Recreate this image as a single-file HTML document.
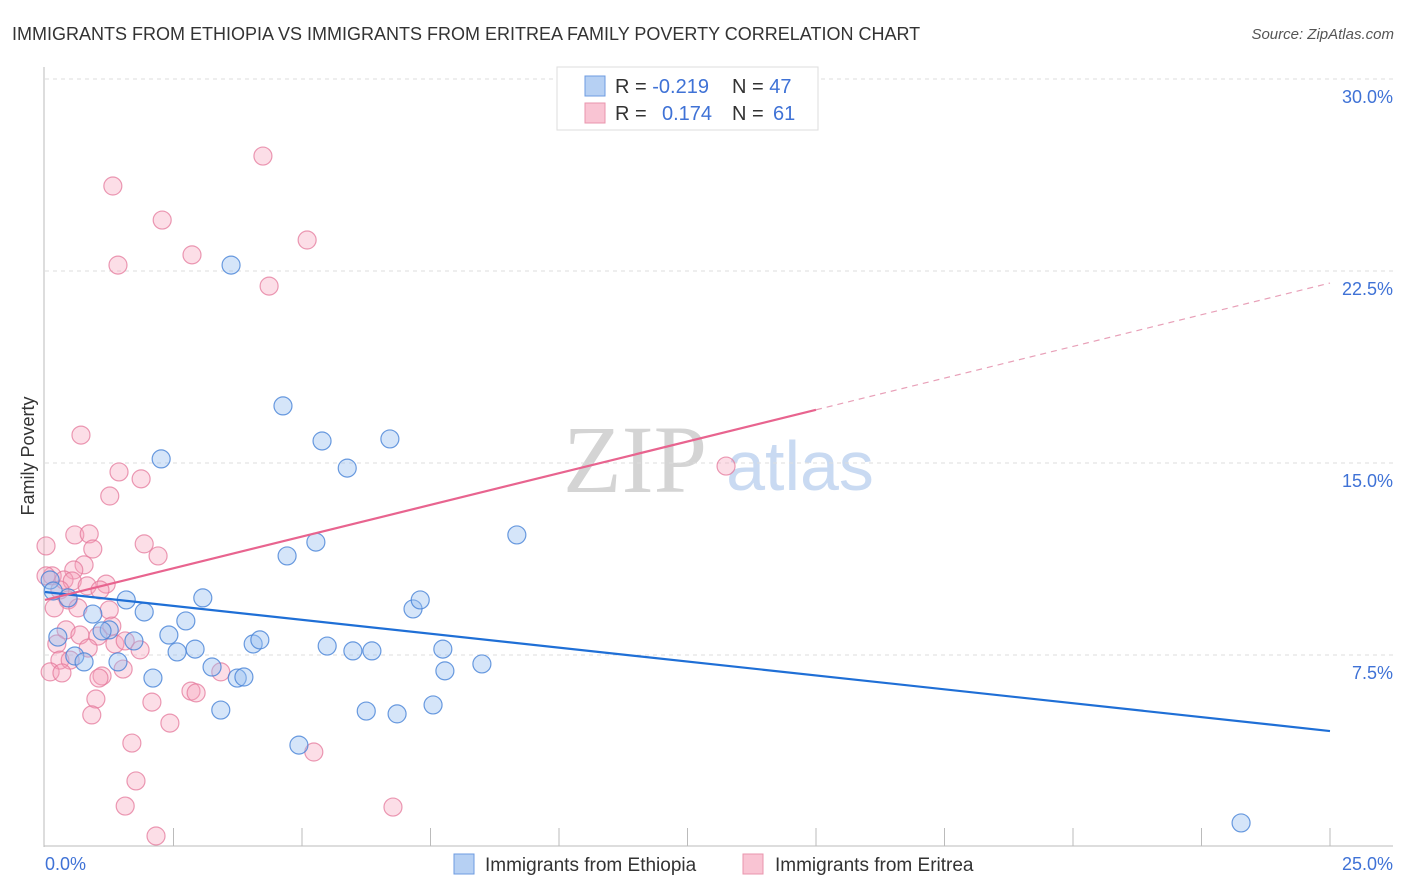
<!DOCTYPE html>
<html><head><meta charset="utf-8"><style>
body{margin:0;background:#fff;font-family:"Liberation Sans",sans-serif;}
svg{display:block}
</style></head><body>
<svg id="chart" width="1406" height="892">
<text x="12" y="40" font-size="18" fill="#333">IMMIGRANTS FROM ETHIOPIA VS IMMIGRANTS FROM ERITREA FAMILY POVERTY CORRELATION CHART</text>
<text x="1394" y="39" font-size="15" fill="#555" font-style="italic" text-anchor="end">Source: ZipAtlas.com</text>
<text x="635" y="492" font-size="96" fill="#d4d4d4" font-family="Liberation Serif,serif" text-anchor="middle">ZIP</text>
<text x="800" y="490" font-size="70" fill="#c9daf2" text-anchor="middle">atlas</text>
<g id="grid"></g>
<g id="axes"></g>
<g id="pts"></g>
<g id="lines"></g>
<text x="34" y="456" font-size="18" fill="#333" text-anchor="middle" transform="rotate(-90 34 456)">Family Poverty</text>
<g>
<rect x="557" y="67" width="261" height="63" fill="#fff" stroke="#ddd"/>
<rect x="585" y="76" width="20" height="20" fill="#b6d0f3" stroke="#6d9be0"/>
<rect x="585" y="103" width="20" height="20" fill="#f9c4d3" stroke="#e995ad"/>
<text x="615" y="93" font-size="20" fill="#333">R = <tspan fill="#3f72d6">-0.219</tspan><tspan x="732">N = </tspan><tspan fill="#3f72d6">47</tspan></text>
<text x="615" y="120" font-size="20" fill="#333">R = <tspan x="662" fill="#3f72d6">0.174</tspan><tspan x="732">N = </tspan><tspan x="773" fill="#3f72d6">61</tspan></text>
</g>
<g>
<rect x="454" y="854" width="20" height="20" fill="#b6d0f3" stroke="#6d9be0"/>
<text x="485" y="871" font-size="19" fill="#333">Immigrants from Ethiopia</text>
<rect x="743" y="854" width="20" height="20" fill="#f9c4d3" stroke="#e995ad"/>
<text x="775" y="871" font-size="19" fill="#333">Immigrants from Eritrea</text>
</g>
</svg>
<script>
const ethX=[3.62,4.63,5.39,6.71,5.88,2.26,9.18,4.71,5.27,3.07,1.58,1.93,0.93,2.74,7.16,7.30,1.25,1.11,0.25,2.41,1.73,2.92,2.57,4.05,4.18,5.49,6.36,7.74,5.99,8.50,7.78,3.25,1.42,0.58,0.76,2.10,3.74,3.87,3.42,6.25,6.85,7.55,4.94,23.27,0.10,0.16,0.45];
const ethY=[22.73,17.23,15.86,15.94,14.80,15.16,12.19,11.37,11.91,9.73,9.65,9.18,9.10,8.83,9.30,9.65,8.48,8.44,8.20,8.28,8.05,7.73,7.62,7.93,8.09,7.85,7.66,7.73,7.66,7.15,6.88,7.03,7.23,7.46,7.23,6.60,6.60,6.64,5.35,5.31,5.20,5.55,3.98,0.94,10.43,10.0,9.73];
const eriX=[4.24,1.32,2.28,2.86,5.10,1.42,4.36,0.70,13.25,1.44,1.87,1.26,0.02,0.58,0.86,0.93,1.93,2.20,0.76,0.56,1.19,0.14,0.37,0.53,0.82,0.29,1.07,0.45,0.18,0.64,1.25,0.41,0.68,1.03,0.84,0.23,1.36,1.56,0.29,0.49,1.52,0.10,0.33,3.42,1.11,1.05,2.84,2.94,0.99,2.08,0.91,2.43,1.69,5.23,1.77,1.56,6.77,2.16,0.02,1.30,1.85];
const eriY=[26.99,25.82,24.49,23.13,23.71,22.73,21.91,16.09,14.88,14.65,14.38,13.71,11.76,12.19,12.23,11.64,11.84,11.37,11.02,10.82,10.27,10.59,10.43,10.39,10.20,10.04,10.04,9.65,9.34,9.34,9.26,8.48,8.28,8.24,7.77,7.93,7.93,8.05,7.30,7.30,6.95,6.84,6.80,6.84,6.68,6.60,6.09,6.02,5.78,5.66,5.16,4.84,4.06,3.71,2.58,1.60,1.56,0.43,10.59,8.63,7.70];
const ethTrend=[9.96,4.53];
const eriTrend=[9.65,22.03];
const eriSolidEnd=15;
const yTicks=[7.5,15.0,22.5,30.0];
const xTickVals=[2.5,5,7.5,10,12.5,15,17.5,20,22.5,25];
const NS='http://www.w3.org/2000/svg';
const sx=v=>45+v*51.4, sy=v=>847-v*25.6;
function mk(t,a,p){const e=document.createElementNS(NS,t);for(const k in a)e.setAttribute(k,a[k]);p.appendChild(e);return e;}
const grid=document.getElementById('grid'),axes=document.getElementById('axes'),pts=document.getElementById('pts'),lines=document.getElementById('lines');
yTicks.forEach(v=>{
 const l=mk('line',{x1:45,x2:1393,y1:sy(v),y2:sy(v),stroke:'#ddd','stroke-dasharray':'4,4'},grid);
 
 
 const t=mk('text',{x:1393,y:sy(v)+24,'font-size':18,fill:'#3f72d6','text-anchor':'end'},axes);
 t.textContent=v.toFixed(1)+'%';
 
 
});
let a=mk('line',{x1:44,x2:44,y1:67,y2:847,stroke:'#bbb'},axes);


a=mk('line',{x1:44,x2:1393,y1:846,y2:846,stroke:'#bbb'},axes);


xTickVals.forEach(v=>{
 const l=mk('line',{x1:sx(v),x2:sx(v),y1:828,y2:846,stroke:'#bbb'},axes);
 
 
});
let t=mk('text',{x:45,y:870,'font-size':18,fill:'#3f72d6'},axes);t.textContent='0.0%';


t=mk('text',{x:1393,y:870,'font-size':18,fill:'#3f72d6','text-anchor':'end'},axes);t.textContent='25.0%';


eriX.forEach((x,i)=>{
 const c=mk('circle',{cx:sx(x),cy:sy(eriY[i]),r:9,fill:'rgba(245,160,185,0.35)',stroke:'rgba(228,120,155,0.75)','stroke-width':1.2},pts);
 
 
});
ethX.forEach((x,i)=>{
 const c=mk('circle',{cx:sx(x),cy:sy(ethY[i]),r:9,fill:'rgba(150,190,240,0.4)',stroke:'rgba(70,130,215,0.8)','stroke-width':1.2},pts);
 
 
});
let l=mk('line',{x1:sx(0),y1:sy(ethTrend[0]),x2:sx(25),y2:sy(ethTrend[1]),stroke:'#1f6fd6','stroke-width':2.2},lines);


const eAt=x=>eriTrend[0]+(eriTrend[1]-eriTrend[0])*x/25;
l=mk('line',{x1:sx(0),y1:sy(eAt(0)),x2:sx(eriSolidEnd),y2:sy(eAt(eriSolidEnd)),stroke:'#e8648f','stroke-width':2.2},lines);


l=mk('line',{x1:sx(eriSolidEnd),y1:sy(eAt(eriSolidEnd)),x2:sx(25),y2:sy(eAt(25)),stroke:'#e8a0b8','stroke-width':1.2,'stroke-dasharray':'6,5'},lines);


</script>
</body></html>
